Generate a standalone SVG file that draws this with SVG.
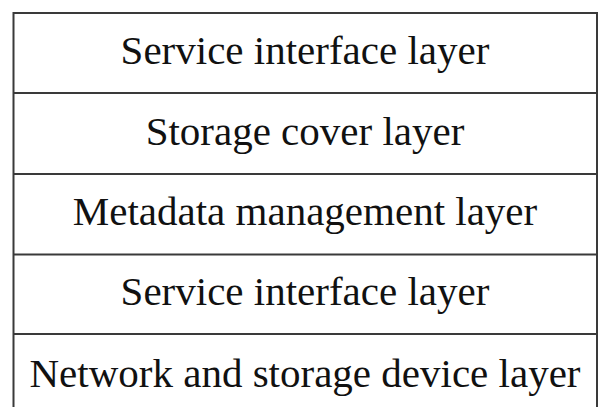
<svg xmlns="http://www.w3.org/2000/svg" width="600" height="407" viewBox="0 0 600 407">
<style>
.ln{stroke:#3a3a3a;stroke-width:2;fill:none}
.t{font-family:"Liberation Serif","Times New Roman",serif;font-size:41px;fill:#111;text-anchor:middle}
</style>
<rect width="600" height="407" fill="#fff"/>
<g id="connectors">
<path class="ln" d="M13.5,420 V13 H597 V420"/>
<path class="ln" d="M13.5,93 H597 M13.5,174 H597 M13.5,254.5 H597 M13.5,334 H597"/>
</g>
<g id="layer1"><text class="t" x="305" y="64">Service interface layer</text></g>
<g id="layer2"><text class="t" x="305" y="145">Storage cover layer</text></g>
<g id="layer3"><text class="t" x="305" y="225">Metadata management layer</text></g>
<g id="layer4"><text class="t" x="305" y="305">Service interface layer</text></g>
<g id="layer5"><text class="t" x="305" y="387">Network and storage device layer</text></g>
</svg>
